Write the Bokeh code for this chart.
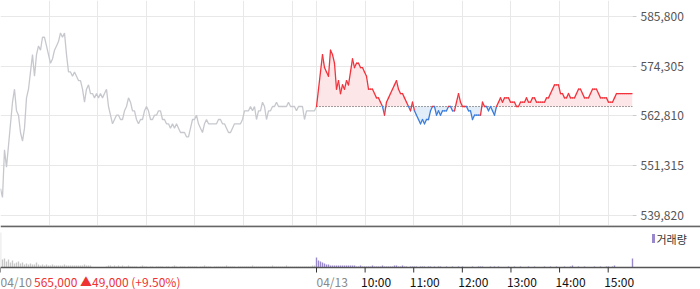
import numpy as np
from bokeh.plotting import figure
from bokeh.layouts import column
from bokeh.models import Range1d, FixedTicker, NumeralTickFormatter
from bokeh.core.properties import value
from bokeh.embed import file_html
from bokeh.resources import INLINE

FONT = "Noto Sans CJK KR"

# ---------------- data ----------------
prev_day_label = "04/10"
today_label = "04/13"
prev_close_text = "565,000 \u25b249,000 (+9.50%)"
hour_labels = ["10:00", "11:00", "12:00", "13:00", "14:00", "15:00"]
price_ticks = [539820, 551315, 562810, 574305, 585800]
base_price = 565000          # previous close (04/10)
legend_text = "거래량"

# prices in thousands of won, sampled evenly over each session
day1_prices_k = [
    546, 544, 555, 551, 556, 561, 566, 569, 564, 563,
    559, 557, 560, 567, 569, 573, 577, 572, 577, 579,
    578, 581, 581, 579, 577, 575, 576, 578, 579, 580,
    582, 581, 582, 577, 573, 573, 572, 573, 572, 571,
    571, 569, 566, 569, 570, 568, 568, 567, 568, 567,
    568, 567, 568, 569, 565, 563, 561, 562, 563, 563,
    562, 562, 564, 565, 567, 566, 564, 564, 562, 561,
    562, 562, 564, 565, 564, 562, 562, 563, 563, 564,
    564, 562, 562, 561, 561, 560, 561, 560, 561, 560,
    559, 559, 559, 558, 558, 560, 562, 562, 563, 561,
    560, 559, 561, 562, 561, 561, 561, 561, 561, 562,
    562, 561, 561, 560, 559, 559, 560, 561, 561, 561,
    561, 562, 564, 564, 564, 565, 564, 565, 562, 564,
    564, 566, 565, 562, 564, 564, 565, 565, 566, 565,
    565, 565, 565, 565, 566, 565, 565, 565, 564, 565,
    565, 565, 562, 564, 564, 564, 564, 564, 565,
]
day2_prices_k = [
    565, 569, 573, 577, 574, 573, 572, 578, 577, 575,
    569, 571, 568, 570, 569, 571, 570, 573, 576, 574,
    575, 575, 574, 574, 573, 572, 569, 569, 569, 568,
    567, 567, 566, 565, 563, 566, 567, 568, 569, 570,
    571, 569, 568, 568, 567, 566, 565, 564, 566, 564,
    563, 562, 561, 562, 561, 562, 562, 564, 565, 565,
    563, 564, 563, 564, 564, 564, 565, 565, 564, 564,
    566, 568, 566, 565, 565, 565, 564, 564, 562, 563,
    563, 563, 563, 566, 565, 565, 564, 565, 564, 563,
    565, 566, 567, 566, 567, 567, 567, 566, 566, 566,
    565, 565, 566, 566, 566, 567, 566, 566, 567, 567,
    566, 566, 566, 566, 566, 567, 567, 568, 569, 570,
    570, 570, 568, 568, 567, 567, 568, 567, 567, 567,
    568, 569, 569, 568, 567, 567, 567, 568, 569, 569,
    569, 568, 567, 567, 567, 567, 566, 566, 566, 567,
    568, 568, 568, 568, 568, 568, 568, 568, 568,
]
# volume in thousands of shares, same sampling
day1_volume_k = [
    35, 8, 9, 6, 8, 5, 7, 4, 5, 6,
    4, 5, 3, 4, 3, 4, 3, 3, 5, 3,
    2, 3, 2, 3, 2, 2, 3, 2, 2, 2,
    2, 2, 3, 2, 2, 2, 2, 2, 2, 2,
    2, 2, 3, 2, 2, 2, 0, 0, 0, 0,
    0, 0, 0, 1, 2, 2, 1, 2, 1, 2,
    1, 2, 1, 1, 2, 1, 1, 1, 1, 0,
    1, 2, 1, 1, 0, 1, 1, 0, 1, 1,
    1, 1, 0, 1, 1, 0, 1, 2, 1, 0,
    1, 1, 1, 0, 1, 1, 1, 1, 1, 0,
    1, 1, 2, 1, 1, 1, 0, 1, 1, 1,
    1, 1, 1, 2, 1, 1, 1, 1, 0, 1,
    1, 1, 1, 1, 1, 1, 2, 1, 1, 1,
    1, 1, 1, 1, 1, 1, 2, 1, 1, 1,
    1, 1, 1, 2, 1, 1, 1, 1, 1, 1,
    1, 1, 1, 1, 1, 1, 2, 2, 1,
]
day2_volume_k = [
    10, 7, 6, 5, 4, 3, 3, 2, 2, 2,
    2, 2, 2, 2, 2, 2, 2, 2, 2, 2,
    1, 1, 2, 1, 1, 1, 1, 1, 2, 1,
    1, 1, 1, 2, 1, 1, 1, 1, 1, 2,
    2, 1, 1, 2, 1, 1, 0, 1, 1, 1,
    1, 0, 1, 1, 1, 0, 1, 1, 0, 1,
    0, 1, 1, 0, 0, 1, 0, 0, 1, 0,
    0, 1, 0, 1, 0, 0, 0, 0, 1, 0,
    0, 1, 1, 1, 0, 0, 0, 1, 0, 1,
    0, 1, 0, 0, 0, 0, 1, 0, 0, 1,
    0, 0, 1, 0, 0, 0, 1, 0, 0, 1,
    0, 0, 0, 0, 1, 0, 0, 1, 0, 0,
    1, 0, 0, 0, 1, 0, 0, 1, 2, 0,
    0, 1, 0, 0, 1, 0, 0, 0, 0, 1,
    0, 0, 1, 0, 0, 1, 1, 0, 1, 2,
    0, 0, 0, 0, 0, 0, 0, 0, 9,
]

# ---------------- derived ----------------
SESSION = 390  # minutes 09:00-15:30
p1 = np.array(day1_prices_k) * 1000.0
p2 = np.array(day2_prices_k) * 1000.0
x1 = np.linspace(0, SESSION, len(p1))
x2 = np.linspace(SESSION, 2 * SESSION, len(p2))
v1 = np.array(day1_volume_k, dtype=float)
v2 = np.array(day2_volume_k, dtype=float)
xv1 = np.linspace(0, SESSION, len(v1))
xv2 = np.linspace(SESSION, 2 * SESSION, len(v2))
hour_ticks = [SESSION + 60 * (i + 1) for i in range(len(hour_labels))]
grid_ticks = [60 * i for i in range(7)] + [SESSION] + hour_ticks
axis_ticks = [0, SESSION] + hour_ticks

RED = "#f2333c"
BLUE = "#3a7ddb"
GRAY_LINE = "#c6c8cd"
GRID = "#e8e8e8"

FRAME_W = 632
TOTAL_W = 700
XMAX = 2 * SESSION
px_to_x = XMAX / FRAME_W

# ---------------- price panel ----------------
p = figure(width=TOTAL_W, height=225, x_range=Range1d(0, XMAX),
           y_range=Range1d(537509, 589497), y_axis_location="right",
           toolbar_location=None, output_backend="svg",
           min_border_left=0, min_border_right=TOTAL_W - FRAME_W,
           min_border_top=0, min_border_bottom=0, frame_align=False)
p.outline_line_color = None
p.xaxis.visible = False
p.xgrid.ticker = FixedTicker(ticks=grid_ticks)
p.xgrid.grid_line_color = GRID
p.ygrid.grid_line_color = GRID
p.yaxis.ticker = FixedTicker(ticks=price_ticks)
p.yaxis.formatter = NumeralTickFormatter(format="0,0")
p.yaxis.axis_line_color = None
p.yaxis.major_tick_line_color = "#cccccc"
p.yaxis.major_tick_in = 0
p.yaxis.major_tick_out = 4
p.yaxis.minor_tick_line_color = None
p.yaxis.major_label_standoff = 4
p.yaxis.major_label_text_font = FONT
p.yaxis.major_label_text_font_size = "12px"
p.yaxis.major_label_text_color = "#555555"

# fills relative to previous close
p.varea(x=x2, y1=np.full(len(p2), base_price), y2=np.maximum(p2, base_price),
        fill_color="#fde6e8")
p.varea(x=x2, y1=np.minimum(p2, base_price), y2=np.full(len(p2), base_price),
        fill_color="#e2edfa")

# previous day line
p.line(x1, p1, line_color=GRAY_LINE, line_width=1.3)

# baseline (dotted)
p.line([SESSION, XMAX], [base_price, base_price], line_color="#444444",
       line_width=1, line_dash="1 2")

# today line colored by side of baseline
y0s, y1s = p2[:-1], p2[1:]
below = (np.minimum(y0s, y1s) < base_price) & (np.maximum(y0s, y1s) <= base_price)
cols = np.where(below, BLUE, RED).tolist()
p.segment(x0=x2[:-1], y0=y0s, x1=x2[1:], y1=y1s, line_color=cols,
          line_width=1.3, line_cap="round")

# ---------------- volume panel (frame covers bars + label strip) ----------------
VOL_PX = 42      # bar area height in px
LAB_PX = 22      # label strip height in px
vmax = max(v1.max(), v2.max()) * 1.2
u = vmax / VOL_PX   # data units per px
xr_end = TOTAL_W * px_to_x
v = figure(width=TOTAL_W, height=VOL_PX + LAB_PX,
           x_range=Range1d(0, xr_end),
           y_range=Range1d(-LAB_PX * u, vmax),
           toolbar_location=None, output_backend="svg",
           min_border_left=0, min_border_right=0, min_border_top=0,
           min_border_bottom=0, x_axis_location=None, y_axis_location=None,
           frame_align=False)
v.outline_line_color = None
v.grid.visible = False

v.vbar(x=xv1, top=v1, width=1.7, fill_color="#c8c8c8", line_color=None)
v.vbar(x=xv2, top=v2, width=1.7, fill_color="#9a88cc", line_color=None)

# separator line on top and axis line at the bottom of the bar area
v.segment(x0=[0], y0=[vmax - 0.8 * u], x1=[xr_end], y1=[vmax - 0.8 * u],
          line_color="#666666", line_width=2)
v.segment(x0=[0], y0=[0], x1=[xr_end], y1=[0], line_color="#555555",
          line_width=1.5)
# tick marks
v.segment(x0=axis_ticks, y0=[0] * len(axis_ticks), x1=axis_ticks,
          y1=[-5 * u] * len(axis_ticks), line_color="#333333", line_width=1)

# legend
v.rect(x=653 * px_to_x, y=vmax - 13 * u, width=3, height=9, width_units="screen",
       height_units="screen", fill_color="#9a88cc", line_color=None)
v.text(x=[656 * px_to_x], y=[vmax - 13 * u], text=[legend_text], text_align="left",
       text_baseline="middle", text_font=value(FONT), text_font_size="11px",
       text_color="#333333")

# x labels
lab_y = -14 * u
v.text(x=[0, SESSION], y=[lab_y, lab_y], text=[prev_day_label, today_label],
       text_align="left", text_baseline="middle", text_font=value(FONT),
       text_font_size="12px", text_color="#888888")
v.text(x=[33.5 * px_to_x], y=[lab_y], text=[prev_close_text],
       text_align="left", text_baseline="middle", text_font=value(FONT),
       text_font_size="12px", text_color="#ee3333")
v.text(x=[t - 4 * px_to_x for t in hour_ticks], y=[lab_y] * len(hour_ticks),
       text=hour_labels, text_align="left", text_baseline="middle",
       text_font=value(FONT), text_font_size="12px", text_color="#111111")

layout = column(p, v, spacing=0)
open("out.html", "w").write(file_html(layout, INLINE))
